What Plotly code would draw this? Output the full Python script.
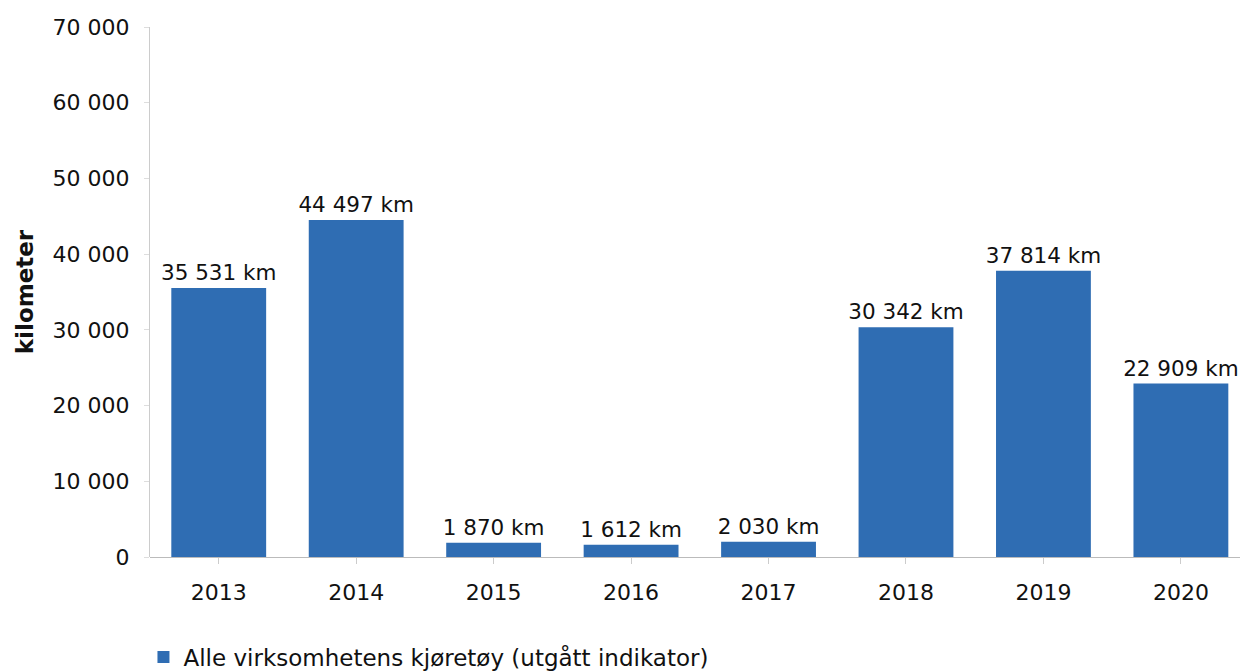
import plotly.graph_objects as go

years = ["2013", "2014", "2015", "2016", "2017", "2018", "2019", "2020"]
km = [35531, 44497, 1870, 1612, 2030, 30342, 37814, 22909]
series_name = "Alle virksomhetens kjøretøy (utgått indikator)"
y_title = "kilometer"
y_ticks = [0, 10000, 20000, 30000, 40000, 50000, 60000, 70000]

labels = [f"{v:,}".replace(",", " ") + " km" for v in km]

FONT = "DejaVu Sans"
TXT = "#111111"

fig = go.Figure()
fig.add_trace(go.Bar(
    x=years, y=km, name=series_name,
    marker=dict(color="#2f6db3", line=dict(width=0)),
    text=labels, textposition="outside", cliponaxis=False,
    constraintext="none",
    textfont=dict(family=FONT, size=21.5, color=TXT),
    width=0.69,
))

fig.update_layout(
    width=1240, height=671,
    margin=dict(l=150, r=0, t=27, b=114, autoexpand=False),
    paper_bgcolor="white", plot_bgcolor="white",
    separators=", ",
    font=dict(family=FONT, size=22, color=TXT),
    showlegend=True,
    legend=dict(x=-0.006, xanchor="left", y=-0.1887, yanchor="middle",
                font=dict(size=23, color=TXT), itemsizing="constant"),
    xaxis=dict(type="category", range=[-0.5, 7.43], showgrid=False,
               showline=False, ticks="outside", ticklen=6, tickcolor="#ccc",
               ticklabelstandoff=10,
               tickfont=dict(size=22, color=TXT)),
    yaxis=dict(range=[0, 70000], tickvals=y_ticks, tickformat=",d",
               showgrid=False, showline=True, linecolor="#ccc", linewidth=1,
               ticks="outside", ticklen=5, tickcolor="#ddd",
               ticklabelstandoff=10,
               zeroline=True, zerolinecolor="#bbb", zerolinewidth=1,
               title=dict(text="<b>" + y_title + "</b>", font=dict(size=23, color=TXT), standoff=12),
               tickfont=dict(size=22, color=TXT)),
)

fig.write_html("out.html", config={"displayModeBar": False},
               post_script="document.body.style.margin='0';")
